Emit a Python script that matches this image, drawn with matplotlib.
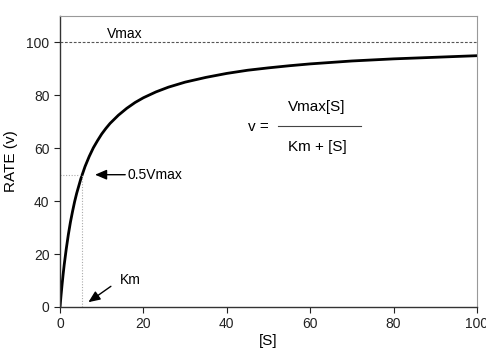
import matplotlib
matplotlib.use("Agg")
import matplotlib.pyplot as plt

plt.rcParams["font.family"] = ["Liberation Sans", "DejaVu Sans"]

# values
substrate = [0, 0.25, 0.5, 0.75, 1, 1.5, 2, 2.5, 3, 3.5, 4, 5, 6, 7, 8, 9,
             10, 11, 12, 14, 16, 18, 20, 23, 26, 30, 35, 40, 45, 50, 55,
             60, 70, 80, 90, 100]
rate = [0, 4.5, 8.6, 12.4, 15.9, 22.0, 27.4, 32.1, 36.1, 39.8, 43.0, 48.5,
        53.1, 56.9, 60.2, 62.9, 65.4, 67.5, 69.4, 72.5, 75.1, 77.3, 79.1,
        81.3, 83.1, 85.0, 86.8, 88.3, 89.5, 90.4, 91.2, 91.9, 93.0, 93.8,
        94.4, 95.0]
vmax = 100
km = 5.3
x_ticks = [0, 20, 40, 60, 80, 100]
y_ticks = [0, 20, 40, 60, 80, 100]

fig = plt.figure(figsize=(4.86, 3.52), dpi=100)
ax = fig.add_axes([0.1235, 0.128, 0.858, 0.8265])

ax.plot(substrate, rate, color="black", lw=2.0, solid_joinstyle="round",
        solid_capstyle="round")
ax.axhline(vmax, color="#555555", lw=0.8, ls=(0, (2.5, 1.5)))
ax.plot([0, km], [vmax / 2, vmax / 2], color="#aaaaaa", lw=0.8, ls=(0, (1, 1.5)))
ax.plot([km, km], [0, vmax / 2], color="#aaaaaa", lw=0.8, ls=(0, (1, 1.5)))

ax.set_xlim(0, 100)
ax.set_ylim(0, 110)
ax.set_xticks(x_ticks)
ax.set_yticks(y_ticks)
ax.tick_params(direction="out", length=4, width=0.8, labelsize=10, colors="#222222")
for side in ["left", "bottom"]:
    ax.spines[side].set_color("#333333")
    ax.spines[side].set_linewidth(1.0)
for side in ["top", "right"]:
    ax.spines[side].set_color("#999999")
    ax.spines[side].set_linewidth(0.8)

ax.set_xlabel("[S]", fontsize=11, labelpad=2)
ax.set_ylabel("RATE (v)", fontsize=11, labelpad=6)

ax.text(11.3, 103.3, "Vmax", fontsize=10, va="center")

# equation
ax.text(45, 68, "v =", fontsize=11, va="center")
ax.text(61.5, 75.7, "Vmax[S]", fontsize=11, ha="center", va="center")
ax.plot([52.2, 72.2], [68.3, 68.3], color="#444444", lw=0.8)
ax.text(61.8, 60.5, "Km + [S]", fontsize=11, ha="center", va="center")

arrow = dict(arrowstyle="-|>,head_length=0.7,head_width=0.3", color="black",
             lw=1.0, shrinkA=0, shrinkB=0)
ax.annotate("0.5Vmax", xy=(8.4, 50), xytext=(16.3, 50), fontsize=10,
            va="center", arrowprops=arrow)
ax.annotate("", xy=(6.8, 1.8), xytext=(12.2, 7.8), arrowprops=arrow)
ax.text(14.4, 10.3, "Km", fontsize=10, va="center")

fig.savefig("out.png", dpi=100)
